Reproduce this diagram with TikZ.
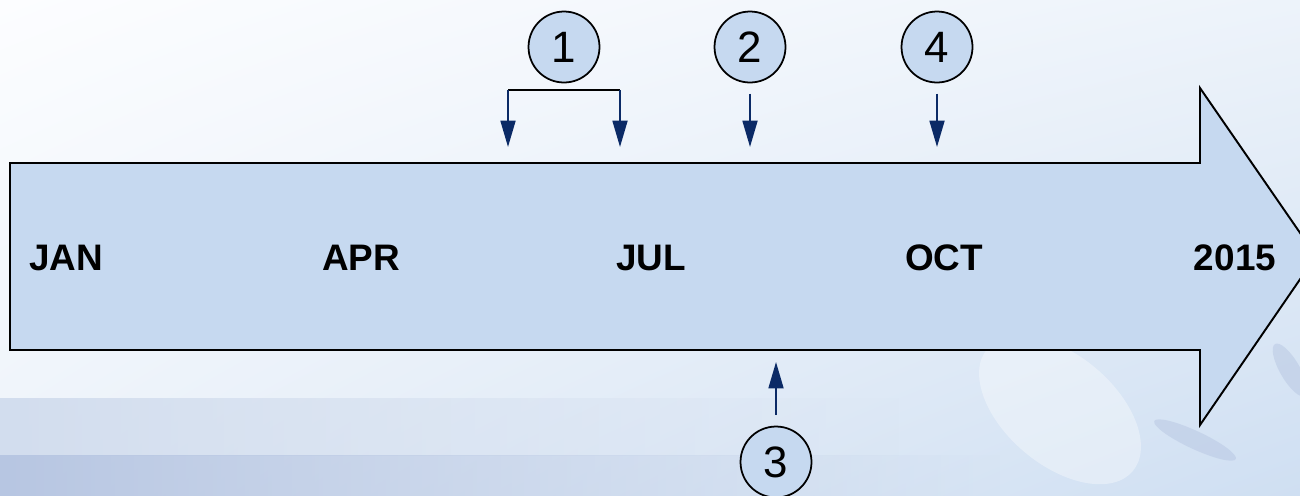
\documentclass[tikz,border=0pt]{standalone}
\usepackage{fontspec}
\setmainfont{Liberation Sans}
\usetikzlibrary{arrows.meta}
\usetikzlibrary{shadings}
\usetikzlibrary{fadings}
\definecolor{bodyblue}{HTML}{C6D9F0}
\definecolor{navy}{HTML}{0B2A66}
\definecolor{bgA}{HTML}{FCFDFF}
\definecolor{bgB}{HTML}{EDF3FA}
\definecolor{bgC}{HTML}{CFDFF2}
\definecolor{band}{HTML}{B7C6E2}
\tikzset{>={Triangle[length=15pt,width=8.5pt]}}
\tikzset{num/.style={draw,circle,line width=1pt,fill=bodyblue,minimum size=1.42cm,inner sep=0pt,font=\fontsize{25}{25}\selectfont}}
\tikzset{mon/.style={font=\fontsize{21}{21}\selectfont\bfseries}}
\tikzset{ev/.style={->,draw=navy,fill=navy,line width=1.1pt}}

\begin{document}
\begin{tikzpicture}[x=0.02cm,y=-0.02cm]
\useasboundingbox (0,0) rectangle (1300,495);
\clip (0,0) rectangle (1300,495);

% background
\shade[upper left=bgA,upper right=bgB,lower left=bgB,lower right=bgC] (0,0) rectangle (1300,495);
\shade[left color=band!50!bgB,right color=band!50!bgB,path fading=east] (0,398) rectangle (900,455);
\shade[left color=band,right color=band,path fading=east] (0,455) rectangle (1000,495);
\fill[white,opacity=0.35,rotate around={-40:(1060,410)}] (1060,410) ellipse (95 and 55);
\fill[band,opacity=0.5,rotate around={-25:(1195,440)}] (1195,440) ellipse (45 and 9);
\fill[band,opacity=0.5,rotate around={-60:(1290,370)}] (1290,370) ellipse (30 and 10);

% timeline arrow
\draw[line width=1.1pt,fill=bodyblue]
  (10,163) -- (1200,163) -- (1200,88) -- (1316,256)
  -- (1200,425) -- (1200,350) -- (10,350) -- cycle;

\node[mon] (jan) at (66,258) {JAN};
\node[mon] (apr) at (361,258) {APR};
\node[mon] (jul) at (651,258) {JUL};
\node[mon] (oct) at (944,258) {OCT};
\node[mon] (yr) at (1235,258) {2015};

% events
\node[num] (e1) at (564,47) {1};
\node[num] (e2) at (750,47) {2};
\node[num] (e4) at (937,47) {4};
\node[num] (e3) at (776,462) {3};

\coordinate (b1) at (508,90);
\coordinate (b2) at (620,90);
\coordinate (t1) at (508,147);
\coordinate (t2) at (620,147);
\draw[line width=1.1pt] (b1) -- (b2);
\draw[ev] (b1) -- (t1);
\draw[ev] (b2) -- (t2);

\coordinate (t3) at (750,147);
\coordinate (t4) at (937,147);
\coordinate (t5) at (776,362);
\draw[ev] ([yshift=-6pt]e2.south) -- (t3);
\draw[ev] ([yshift=-6pt]e4.south) -- (t4);
\draw[ev] ([yshift=6pt]e3.north) -- (t5);

\end{tikzpicture}
\end{document}
